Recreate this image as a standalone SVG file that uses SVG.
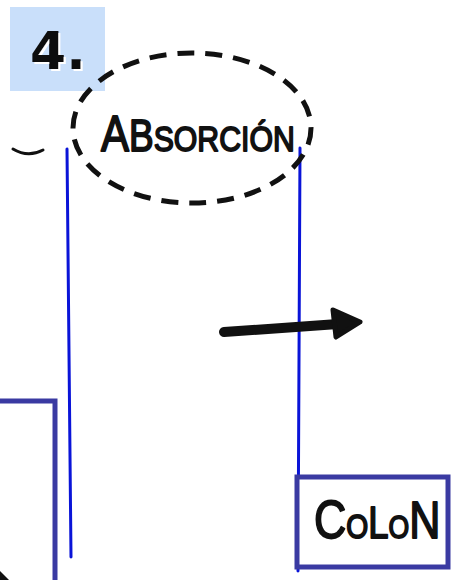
<svg xmlns="http://www.w3.org/2000/svg" width="454" height="580" viewBox="0 0 454 580">
  <style>
    .hand { font-family: "Liberation Sans", "DejaVu Sans", sans-serif; fill: #111; stroke: #111; stroke-width: 1.8; stroke-linejoin: round; }
    .vessel { fill: none; stroke: #0a14d8; stroke-width: 3; stroke-linecap: round; }
    .frame { fill: #fff; stroke: #3a3aa2; stroke-width: 5; }
    .ink { fill: none; stroke: #111; stroke-linecap: round; stroke-linejoin: round; }
  </style>
  <defs>
    <filter id="white-shadow" x="-20%" y="-20%" width="140%" height="140%">
      <feDropShadow dx="2" dy="2" stdDeviation="0.3" flood-color="#fff" flood-opacity="1"/>
    </filter>
  </defs>
  <rect width="454" height="580" fill="#fff"/>

  <!-- step badge -->
  <g id="step-badge">
    <rect x="10" y="7" width="95" height="84" fill="#c9dffa"/>
    <text x="30" y="69" font-family="DejaVu Sans, sans-serif" font-weight="bold" font-size="52" fill="#111" filter="url(#white-shadow)">4.</text>
  </g>

  <!-- small partial outline at left edge -->
  <g id="left-mark">
    <path d="M13 149 Q28 158 43 150" class="ink" stroke="#1f2552" stroke-width="3"/>
  </g>

  <!-- connectors: vessel walls and flow arrow -->
  <g id="connectors">
    <line x1="67" y1="149" x2="71" y2="557" class="vessel"/>
    <line x1="300" y1="148" x2="298" y2="571" class="vessel"/>
    <path d="M224 332 L352 323" class="ink" stroke-width="10"/>
    <path d="M333 310 L360 322 L336 337 Z" fill="#111" stroke="#111" stroke-width="5" stroke-linejoin="round"/>
  </g>

  <!-- highlighted process label -->
  <g id="absorcion">
    <ellipse cx="192" cy="128" rx="119" ry="75" fill="none" stroke="#111" stroke-width="5" stroke-dasharray="17 11"/>
    <g transform="translate(101,151) scale(0.84,1)">
      <text x="0" y="0" class="hand"><tspan font-size="50">A</tspan><tspan font-size="44">B</tspan><tspan font-size="36">SORCIÓN</tspan></text>
    </g>
  </g>

  <!-- left organ box (cropped) -->
  <g id="left-box">
    <rect x="-10" y="401" width="65" height="200" class="frame"/>
    <path d="M0 571 L9 580 L0 580 Z" fill="#111"/>
  </g>

  <!-- colon box -->
  <g id="colon">
    <rect x="297" y="477" width="151" height="90" class="frame"/>
    <g transform="translate(314,538) scale(0.83,1)">
      <text x="0" y="0" class="hand"><tspan font-size="54">C</tspan><tspan font-size="34">O</tspan><tspan font-size="44">L</tspan><tspan font-size="32">O</tspan><tspan font-size="52">N</tspan></text>
    </g>
  </g>
</svg>
